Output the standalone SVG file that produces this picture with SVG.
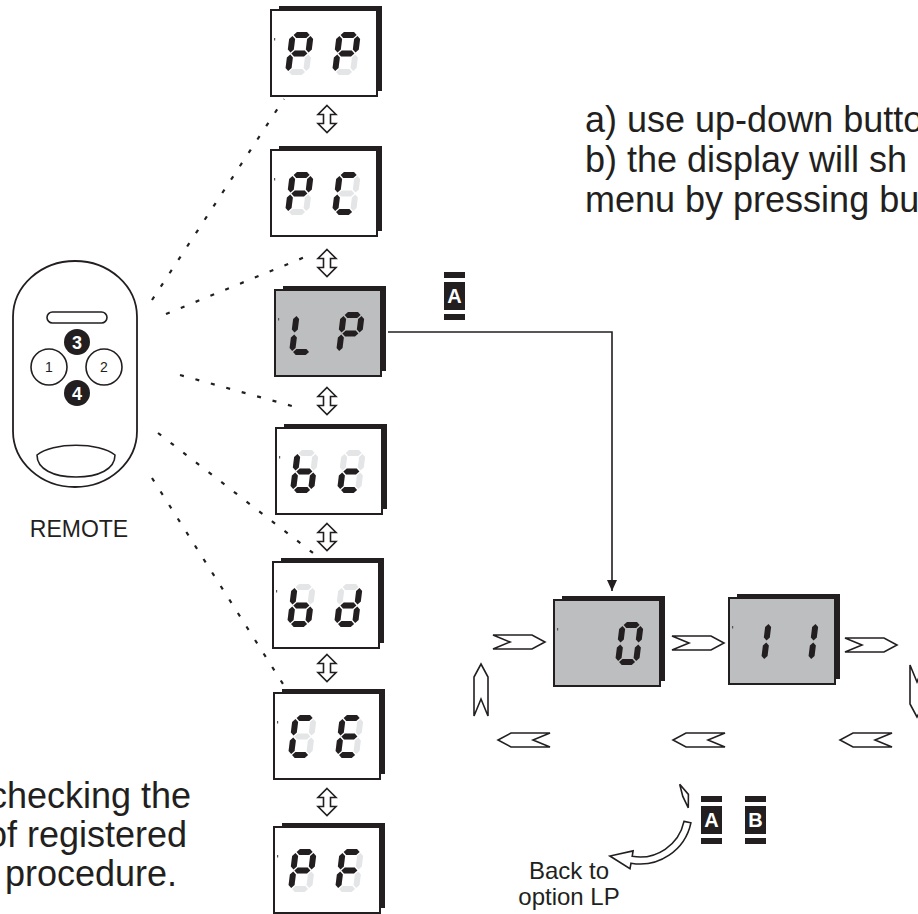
<svg xmlns="http://www.w3.org/2000/svg" xmlns:xlink="http://www.w3.org/1999/xlink" width="918" height="914" viewBox="0 0 918 914">
  <style>
    .ink { fill: #231f20; }
    .off { fill: #e4e5e6; }
    .shadow { fill: #231f20; }
    .frame { fill: #ffffff; stroke: #231f20; stroke-width: 2; }
    .lcd { fill: #bcbec0; }
    .speck { fill: #555555; }
    .dots { fill: none; stroke: #231f20; stroke-width: 2.2; stroke-dasharray: 4 12; }
    .wire { fill: none; stroke: #231f20; stroke-width: 1.6; }
    .hollow { fill: #ffffff; stroke: #231f20; stroke-width: 1.6; stroke-linejoin: miter; }
    .txt { font-family: "Liberation Sans", Arial, Helvetica, sans-serif; fill: #231f20; }
    .big { font-size: 36px; }
    .mid { font-size: 24px; }
    .key { font-family: "Liberation Sans", Arial, sans-serif; font-weight: bold; fill: #ffffff; text-anchor: middle; }
  </style>
  <defs>
    <!-- seven-segment pieces -->
    <polygon id="sh" points="-8,0 -5,-3 5,-3 8,0 5,3 -5,3"/>
    <polygon id="sv" points="0,-8.25 3,-5.25 3,5.25 0,8.25 -3,5.25 -3,-5.25"/>
    <g id="seg-a"><use xlink:href="#sh" x="12" y="3"/></g>
    <g id="seg-b"><use xlink:href="#sv" x="21" y="12.25"/></g>
    <g id="seg-c"><use xlink:href="#sv" x="21" y="30.75"/></g>
    <g id="seg-d"><use xlink:href="#sh" x="12" y="40"/></g>
    <g id="seg-e"><use xlink:href="#sv" x="3" y="30.75"/></g>
    <g id="seg-f"><use xlink:href="#sv" x="3" y="12.25"/></g>
    <g id="seg-g"><use xlink:href="#sh" x="12" y="21.5"/></g>
    <!-- unlit digit -->
    <g id="d-off" class="off">
      <use xlink:href="#seg-a"/><use xlink:href="#seg-b"/><use xlink:href="#seg-c"/><use xlink:href="#seg-d"/>
      <use xlink:href="#seg-e"/><use xlink:href="#seg-f"/><use xlink:href="#seg-g"/>
    </g>
    <!-- lit characters -->
    <g id="ch-P" class="ink"><use xlink:href="#seg-a"/><use xlink:href="#seg-b"/><use xlink:href="#seg-f"/><use xlink:href="#seg-g"/><use xlink:href="#seg-e"/></g>
    <g id="ch-C" class="ink"><use xlink:href="#seg-a"/><use xlink:href="#seg-f"/><use xlink:href="#seg-e"/><use xlink:href="#seg-d"/></g>
    <g id="ch-E" class="ink"><use xlink:href="#seg-a"/><use xlink:href="#seg-f"/><use xlink:href="#seg-g"/><use xlink:href="#seg-e"/><use xlink:href="#seg-d"/></g>
    <g id="ch-F" class="ink"><use xlink:href="#seg-a"/><use xlink:href="#seg-f"/><use xlink:href="#seg-g"/><use xlink:href="#seg-e"/></g>
    <g id="ch-L" class="ink"><use xlink:href="#seg-f"/><use xlink:href="#seg-e"/><use xlink:href="#seg-d"/></g>
    <g id="ch-b" class="ink"><use xlink:href="#seg-f"/><use xlink:href="#seg-e"/><use xlink:href="#seg-d"/><use xlink:href="#seg-c"/><use xlink:href="#seg-g"/></g>
    <g id="ch-c" class="ink"><use xlink:href="#seg-g"/><use xlink:href="#seg-e"/><use xlink:href="#seg-d"/></g>
    <g id="ch-d" class="ink"><use xlink:href="#seg-b"/><use xlink:href="#seg-c"/><use xlink:href="#seg-d"/><use xlink:href="#seg-e"/><use xlink:href="#seg-g"/></g>
    <g id="ch-0" class="ink"><use xlink:href="#seg-a"/><use xlink:href="#seg-b"/><use xlink:href="#seg-c"/><use xlink:href="#seg-d"/><use xlink:href="#seg-e"/><use xlink:href="#seg-f"/></g>
    <g id="ch-1" class="ink"><use xlink:href="#seg-b"/><use xlink:href="#seg-c"/></g>
    <!-- display housing: drop shadow + frame -->
    <g id="housing">
      <rect class="shadow" x="8" y="-4" width="103" height="85"/>
      <rect class="frame" x="0" y="0" width="106" height="86"/>
      <rect class="speck" x="3" y="28" width="1.2" height="2.5"/>
    </g>
    <g id="housing-lcd">
      <rect class="shadow" x="8" y="-4" width="103" height="85"/>
      <rect class="frame lcd" x="0" y="0" width="106" height="86"/>
      <rect class="speck" x="3" y="28" width="1.2" height="2.5"/>
    </g>
    <!-- up/down step arrow -->
    <path id="updown" class="hollow" stroke-width="2" d="M0,-13.5 L9,-4.5 L3.5,-4.5 L3.5,4.5 L9,4.5 L0,13.5 L-9,4.5 L-3.5,4.5 L-3.5,-4.5 L-9,-4.5 Z"/>
    <!-- hollow flow chevron, pointing right -->
    <path id="chev" class="hollow" d="M0,0 L39,0 L52,7 L39,14 L0,14 L17,7 Z"/>
    <!-- key cap: bar, lettered block, bar -->
    <g id="keycap" class="ink">
      <rect x="0" y="0" width="21" height="6"/>
      <rect x="0" y="10" width="21" height="28"/>
      <rect x="0" y="42" width="21" height="6"/>
    </g>
    <marker id="tip" markerUnits="userSpaceOnUse" markerWidth="12" markerHeight="11" refX="11" refY="5" orient="auto">
      <path d="M0,0 L11,5 L0,10 Z" fill="#231f20"/>
    </marker>
  </defs>

  <!-- remote control -->
  <g id="remote">
    <rect x="13" y="261" width="124" height="226" rx="62" ry="56" fill="#fff" stroke="#231f20" stroke-width="1.8"/>
    <rect x="47" y="312" width="60" height="11" rx="5.5" fill="#fff" stroke="#231f20" stroke-width="1.6"/>
    <circle cx="77" cy="342" r="13" class="ink"/>
    <circle cx="77" cy="393" r="13" class="ink"/>
    <circle cx="49" cy="367" r="18" fill="#fff" stroke="#231f20" stroke-width="1.6"/>
    <circle cx="104" cy="367" r="18" fill="#fff" stroke="#231f20" stroke-width="1.6"/>
    <text x="77" y="348.5" class="key" font-size="18">3</text>
    <text x="77" y="399.5" class="key" font-size="18">4</text>
    <text x="49" y="372" class="txt" font-size="14" text-anchor="middle">1</text>
    <text x="104" y="372" class="txt" font-size="14" text-anchor="middle">2</text>
    <path d="M37,455 C52,442 100,442 115,455 C115,469 99,477 76,477 C53,477 37,469 37,455 Z" fill="#fff" stroke="#231f20" stroke-width="1.6"/>
    <text x="79" y="537" class="txt" font-size="23" text-anchor="middle">REMOTE</text>
  </g>

  <!-- menu column -->
  <g id="disp-pp" transform="translate(271,10)">
    <use xlink:href="#housing"/>
    <g transform="translate(19,22) skewX(-7)"><use xlink:href="#d-off"/><use xlink:href="#ch-P"/></g>
    <g transform="translate(66,22) skewX(-7)"><use xlink:href="#d-off"/><use xlink:href="#ch-P"/></g>
  </g>
  <g id="disp-pc" transform="translate(271,150)">
    <use xlink:href="#housing"/>
    <g transform="translate(19,22) skewX(-7)"><use xlink:href="#d-off"/><use xlink:href="#ch-P"/></g>
    <g transform="translate(66,22) skewX(-7)"><use xlink:href="#d-off"/><use xlink:href="#ch-C"/></g>
  </g>
  <g id="disp-lp" transform="translate(275,290)">
    <use xlink:href="#housing-lcd"/>
    <g transform="translate(19,22) skewX(-7)"><use xlink:href="#ch-L"/></g>
    <g transform="translate(66,22) skewX(-7)"><use xlink:href="#ch-P"/></g>
  </g>
  <g id="disp-bc" transform="translate(276,428)">
    <use xlink:href="#housing"/>
    <g transform="translate(19,22) skewX(-7)"><use xlink:href="#d-off"/><use xlink:href="#ch-b"/></g>
    <g transform="translate(66,22) skewX(-7)"><use xlink:href="#d-off"/><use xlink:href="#ch-c"/></g>
  </g>
  <g id="disp-bd" transform="translate(273,562)">
    <use xlink:href="#housing"/>
    <g transform="translate(19,22) skewX(-7)"><use xlink:href="#d-off"/><use xlink:href="#ch-b"/></g>
    <g transform="translate(66,22) skewX(-7)"><use xlink:href="#d-off"/><use xlink:href="#ch-d"/></g>
  </g>
  <g id="disp-ce" transform="translate(274,693)">
    <use xlink:href="#housing"/>
    <g transform="translate(19,22) skewX(-7)"><use xlink:href="#d-off"/><use xlink:href="#ch-C"/></g>
    <g transform="translate(66,22) skewX(-7)"><use xlink:href="#d-off"/><use xlink:href="#ch-E"/></g>
  </g>
  <g id="disp-pf" transform="translate(274,827)">
    <use xlink:href="#housing"/>
    <g transform="translate(19,22) skewX(-7)"><use xlink:href="#d-off"/><use xlink:href="#ch-P"/></g>
    <g transform="translate(66,22) skewX(-7)"><use xlink:href="#d-off"/><use xlink:href="#ch-F"/></g>
  </g>

  <!-- value displays -->
  <g id="disp-val0" transform="translate(554,600)">
    <use xlink:href="#housing-lcd"/>
    <g transform="translate(66,22) skewX(-7)"><use xlink:href="#ch-0"/></g>
  </g>
  <g id="disp-val11" transform="translate(729,598)">
    <use xlink:href="#housing-lcd"/>
    <g transform="translate(19,22) skewX(-7)"><use xlink:href="#ch-1"/></g>
    <g transform="translate(66,22) skewX(-7)"><use xlink:href="#ch-1"/></g>
  </g>

  <!-- key legends -->
  <g id="key-a-enter" transform="translate(444,272)">
    <use xlink:href="#keycap"/>
    <text x="10.5" y="31" class="key" font-size="20">A</text>
  </g>
  <g id="key-a-exit" transform="translate(701,796)">
    <use xlink:href="#keycap"/>
    <text x="10.5" y="31" class="key" font-size="20">A</text>
  </g>
  <g id="key-b-exit" transform="translate(745,796)">
    <use xlink:href="#keycap"/>
    <text x="10.5" y="31" class="key" font-size="20">B</text>
  </g>

  <!-- connectors -->
  <g id="connectors">
    <!-- remote to menu entries -->
    <line class="dots" x1="152" y1="300" x2="284" y2="99"/>
    <line class="dots" x1="166" y1="314" x2="305" y2="257"/>
    <line class="dots" x1="180" y1="375" x2="292" y2="406"/>
    <line class="dots" x1="158" y1="433" x2="313" y2="553"/>
    <line class="dots" x1="152" y1="478" x2="283" y2="684"/>
    <!-- step arrows between menu entries -->
    <use xlink:href="#updown" x="327" y="119"/>
    <use xlink:href="#updown" x="327" y="263"/>
    <use xlink:href="#updown" x="327" y="401"/>
    <use xlink:href="#updown" x="327" y="537"/>
    <use xlink:href="#updown" x="327" y="668"/>
    <use xlink:href="#updown" x="327" y="802"/>
    <!-- LP entry -->
    <path class="wire" d="M388,332 H612 V591" marker-end="url(#tip)"/>
    <!-- value cycle -->
    <use xlink:href="#chev" transform="translate(493,635)"/>
    <use xlink:href="#chev" transform="translate(672,636)"/>
    <use xlink:href="#chev" transform="translate(845,638)"/>
    <use xlink:href="#chev" transform="translate(550,733) scale(-1,1)"/>
    <use xlink:href="#chev" transform="translate(725,733) scale(-1,1)"/>
    <use xlink:href="#chev" transform="translate(892,733) scale(-1,1)"/>
    <use xlink:href="#chev" transform="translate(474,716) rotate(-90)"/>
    <use xlink:href="#chev" transform="translate(924,665) rotate(90)"/>
    <!-- exit back to menu -->
    <path class="hollow" d="M679.7,784.2 L688.4,794.4 L688.3,807.8 L682.8,796.4 Z"/>
    <path class="hollow" d="M684,821.4 L690.9,822.8 A52,52 0 0 1 631,863.2 L630,868.6 L609.9,856 L633.1,850.9 L632.2,856.3 A45,45 0 0 0 684,821.4 Z"/>
  </g>

  <!-- notes -->
  <g id="notes" class="txt">
    <text x="585" y="132" class="big">a) use up-down butto</text>
    <text x="585" y="172" class="big">b) the display will sh</text>
    <text x="585" y="212" class="big">menu by pressing bu</text>
    <text x="-11" y="808" class="big">checking the</text>
    <text x="-13" y="847" class="big">of registered</text>
    <text x="5" y="886" class="big">procedure.</text>
    <text x="569" y="879" class="mid" text-anchor="middle">Back to</text>
    <text x="569" y="905" class="mid" text-anchor="middle">option LP</text>
  </g>
</svg>
